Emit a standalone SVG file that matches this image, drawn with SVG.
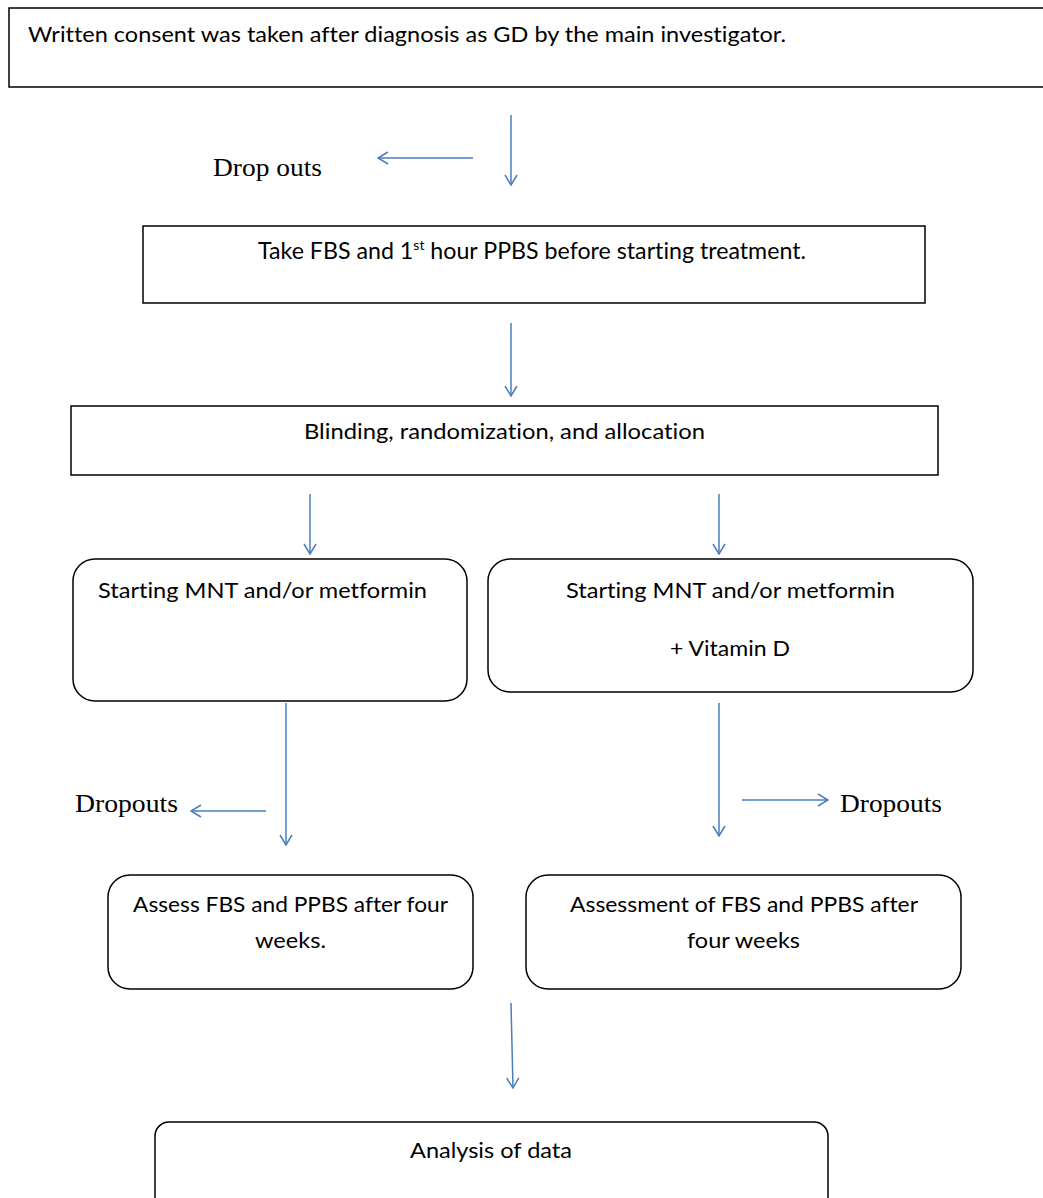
<svg xmlns="http://www.w3.org/2000/svg" width="1043" height="1198" viewBox="0 0 1043 1198">
<style>
.box{fill:#fff;stroke:#000;stroke-width:1.5}
.t{font-family:Lato,"Open Sans",sans-serif;font-size:21.5px;fill:#000;font-variant-ligatures:none}
.s{font-family:"Liberation Serif","Times New Roman",serif;font-size:25px;fill:#000}
.c{fill:none;stroke:#4a7ebb;stroke-width:1.5}
</style>
<defs>
<marker id="ah" viewBox="0 0 12 14" refX="11" refY="7" markerWidth="12" markerHeight="14" markerUnits="userSpaceOnUse" orient="auto">
<path d="M1,1 L11,7 L1,13" fill="none" stroke="#4a7ebb" stroke-width="1.5"/>
</marker>
</defs>
<rect width="1043" height="1198" fill="#fff"/>
<g id="n1"><rect class="box" x="9" y="8" width="1050" height="79"/><text class="t" x="28" y="42" textLength="758" lengthAdjust="spacingAndGlyphs">Written consent was taken after diagnosis as GD by the main investigator.</text></g>
<g id="d1"><text class="s" x="213" y="176" textLength="109" lengthAdjust="spacingAndGlyphs">Drop outs</text></g>
<g id="n2"><rect class="box" x="143" y="226" width="782" height="77"/><text class="t" x="258" y="259" style="font-size:23.2px">Take FBS and 1<tspan style="font-size:14px" dy="-9">st</tspan><tspan dy="9"> hour PPBS before starting treatment.</tspan></text></g>
<g id="n3"><rect class="box" x="71" y="406" width="867" height="69"/><text class="t" x="304" y="439" textLength="401" lengthAdjust="spacingAndGlyphs">Blinding, randomization, and allocation</text></g>
<g id="n4"><rect class="box" x="73" y="559" width="394" height="142" rx="22"/><text class="t" x="98" y="598" textLength="329" lengthAdjust="spacingAndGlyphs">Starting MNT and/or metformin</text></g>
<g id="n5"><rect class="box" x="488" y="559" width="485" height="133" rx="22"/><text class="t" x="566" y="598" textLength="329" lengthAdjust="spacingAndGlyphs">Starting MNT and/or metformin</text><text class="t" x="670" y="656" textLength="120" lengthAdjust="spacingAndGlyphs">+ Vitamin D</text></g>
<g id="d2"><text class="s" x="75" y="812" textLength="103" lengthAdjust="spacingAndGlyphs">Dropouts</text></g>
<g id="d3"><text class="s" x="840" y="812" textLength="102" lengthAdjust="spacingAndGlyphs">Dropouts</text></g>
<g id="n6"><rect class="box" x="108" y="875" width="365" height="114" rx="22"/><text class="t" x="133" y="912" textLength="315" lengthAdjust="spacingAndGlyphs">Assess FBS and PPBS after four</text><text class="t" x="255" y="948" textLength="71" lengthAdjust="spacingAndGlyphs">weeks.</text></g>
<g id="n7"><rect class="box" x="526" y="875" width="435" height="114" rx="22"/><text class="t" x="570" y="912" textLength="348" lengthAdjust="spacingAndGlyphs">Assessment of FBS and PPBS after</text><text class="t" x="687" y="948" textLength="113" lengthAdjust="spacingAndGlyphs">four weeks</text></g>
<g id="n8"><rect class="box" x="155" y="1122" width="673" height="100" rx="14"/><text class="t" x="410" y="1158" textLength="162" lengthAdjust="spacingAndGlyphs">Analysis of data</text></g>
<g id="connectors">
<line class="c" x1="511" y1="115" x2="511" y2="185" marker-end="url(#ah)"/>
<line class="c" x1="473" y1="158" x2="378" y2="158" marker-end="url(#ah)"/>
<line class="c" x1="511" y1="323" x2="511" y2="396" marker-end="url(#ah)"/>
<line class="c" x1="310" y1="494" x2="310" y2="554" marker-end="url(#ah)"/>
<line class="c" x1="719" y1="494" x2="719" y2="554" marker-end="url(#ah)"/>
<line class="c" x1="286" y1="703" x2="286" y2="845" marker-end="url(#ah)"/>
<line class="c" x1="266" y1="811" x2="191" y2="811" marker-end="url(#ah)"/>
<line class="c" x1="719" y1="703" x2="719" y2="836" marker-end="url(#ah)"/>
<line class="c" x1="742" y1="800" x2="828" y2="800" marker-end="url(#ah)"/>
<line class="c" x1="511" y1="1003" x2="513" y2="1088" marker-end="url(#ah)"/>
</g>
</svg>
